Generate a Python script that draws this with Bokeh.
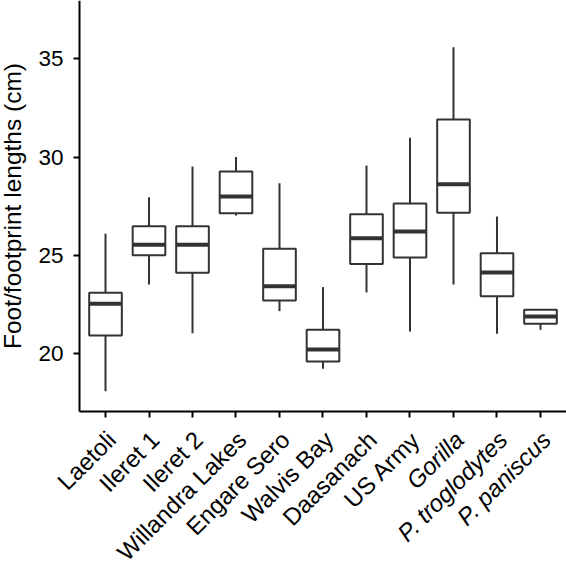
import math
from bokeh.plotting import figure
from bokeh.models import Range1d, FixedTicker, Label
from bokeh.embed import file_html
from bokeh.resources import INLINE

# ---- data ----
groups = ["Laetoli", "Ileret 1", "Ileret 2", "Willandra Lakes", "Engare Sero",
          "Walvis Bay", "Daasanach", "US Army", "Gorilla", "P. troglodytes",
          "P. paniscus"]
italic_groups = ["Gorilla", "P. troglodytes", "P. paniscus"]
whisker_low = [18.10, 23.52, 21.05, 27.03, 22.17, 19.24, 23.12, 21.13, 23.52, 21.02, 21.22]
q1 = [20.93, 25.01, 24.12, 27.15, 22.71, 19.61, 24.56, 24.90, 27.17, 22.93, 21.53]
median = [22.54, 25.54, 25.54, 28.00, 23.44, 20.22, 25.88, 26.22, 28.62, 24.13, 21.90]
q3 = [23.10, 26.49, 26.49, 29.27, 25.34, 21.22, 27.10, 27.64, 31.91, 25.11, 22.24]
whisker_high = [26.10, 27.96, 29.52, 30.00, 28.67, 23.39, 29.57, 30.98, 35.59, 26.98, 22.24]
y_ticks = [20, 25, 30, 35]
y_label = "Foot/footprint lengths (cm)"

# ---- styling ----
FONT = "Liberation Sans"
BOX_COLOR = "#333333"
BOX_W = 0.75
TICK_FONT = "22.5px"
CAT_FONT = "24px"

x = list(range(len(groups)))
# axis extents (data units)
x_axis_left, x_axis_right = -0.6, 10.598
axis_bottom, y_top = 17.067, 37.962
# the frame covers the whole canvas so the rotated labels are not clipped
canvas_left, canvas_bottom = -2.414, 9.34

p = figure(width=566, height=563, output_backend="svg", toolbar_location=None,
           x_range=Range1d(canvas_left, x_axis_right),
           y_range=Range1d(canvas_bottom, y_top),
           min_border_left=0, min_border_right=0, min_border_top=0,
           min_border_bottom=0)
p.outline_line_color = None
p.xgrid.visible = False
p.ygrid.visible = False
p.background_fill_color = "white"
p.border_fill_color = "white"

# whiskers
p.segment(x0=x, y0=q3, x1=x, y1=whisker_high, line_color=BOX_COLOR, line_width=2)
p.segment(x0=x, y0=q1, x1=x, y1=whisker_low, line_color=BOX_COLOR, line_width=2)
# boxes
p.vbar(x=x, width=BOX_W, top=q3, bottom=q1, fill_color="white",
       line_color=BOX_COLOR, line_width=2)
# medians
p.segment(x0=[i - BOX_W / 2 for i in x], y0=median,
          x1=[i + BOX_W / 2 for i in x], y1=median,
          line_color=BOX_COLOR, line_width=4)

# axes
for ax in (p.xaxis[0], p.yaxis[0]):
    ax.axis_line_color = "black"
    ax.axis_line_width = 2
    ax.major_tick_line_color = "black"
    ax.major_tick_line_width = 2
    ax.major_tick_in = 0
    ax.major_tick_out = 6
    ax.minor_tick_line_color = None
    ax.major_label_text_font = FONT
    ax.major_label_text_font_size = TICK_FONT
    ax.major_label_text_color = "black"

p.xaxis.ticker = FixedTicker(ticks=x)
p.xaxis.major_label_overrides = {i: "" for i in x}
p.xaxis.fixed_location = axis_bottom
p.xaxis.bounds = (x_axis_left, x_axis_right)

p.yaxis.ticker = FixedTicker(ticks=y_ticks)
p.yaxis.fixed_location = x_axis_left
p.yaxis.bounds = (axis_bottom, y_top)
p.yaxis.major_label_standoff = 10

# y axis title
p.add_layout(Label(x=x_axis_left, y=(axis_bottom + y_top) / 2, x_offset=-67,
                   text=y_label, angle=math.pi / 2, text_align="center",
                   text_baseline="middle", text_font=FONT,
                   text_font_size="24.5px", text_color="black"))

# rotated category labels (some italic)
for i, g in zip(x, groups):
    p.add_layout(Label(x=i, y=axis_bottom, x_offset=6, y_offset=-24,
                       text=g, angle=math.pi / 4, text_align="right",
                       text_baseline="alphabetic", text_font=FONT,
                       text_font_size=CAT_FONT, text_color="black",
                       text_font_style="italic" if g in italic_groups else "normal"))

open("out.html", "w").write(file_html(p, INLINE))
